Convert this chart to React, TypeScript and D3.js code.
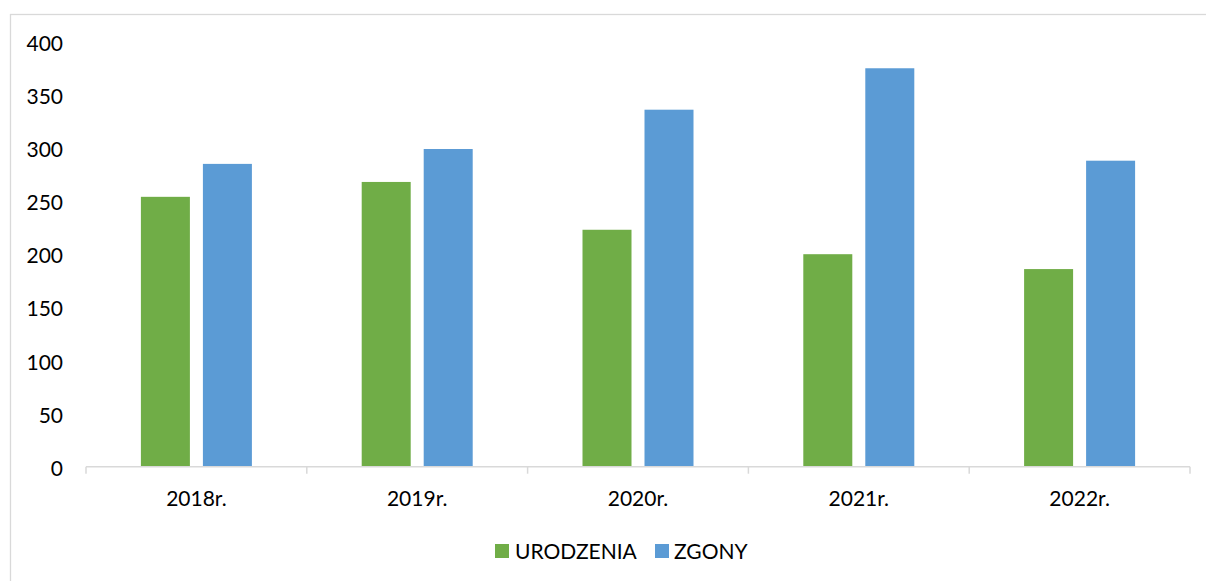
import React from "react";
import * as d3 from "d3";

const categories = ["2018r.", "2019r.", "2020r.", "2021r.", "2022r."];
const seriesNames = ["URODZENIA", "ZGONY"];
const urodzenia = [254, 268, 223, 200, 186];
const zgony = [285, 299, 336, 375, 288];
const yTicks = [0, 50, 100, 150, 200, 250, 300, 350, 400];
const colors = ["#70AD47", "#5B9BD5"];

const W = 1206;
const H = 581;
const FONT = "Lato, 'Open Sans', sans-serif";
const FS = 21;

export default function App() {
  const x0 = d3.scaleBand<string>().domain(categories).range([86, 1190]).paddingInner(0).paddingOuter(0);
  const y = d3.scaleLinear().domain([0, 400]).range([466.7, 41.7]);
  const values = [urodzenia, zgony];
  const tickXs = [...categories.map((c) => x0(c) as number), 1190];
  const baseY = y(0);

  return (
    <svg
      width={W}
      height={H}
      style={{ position: "absolute", left: 0, top: 0, background: "#fff" }}
      fontFamily={FONT}
    >
      <rect x={10.5} y={14.5} width={1300} height={700} fill="#fff" stroke="#D9D9D9" strokeWidth={1.3} />
      {categories.map((c) => {
        const center = (x0(c) as number) + x0.bandwidth() / 2;
        const x1 = d3
          .scaleBand<string>()
          .domain(seriesNames)
          .range([center - 55.5, center + 55.5])
          .paddingInner(0.2097)
          .paddingOuter(0);
        return (
          <g key={c}>
            {seriesNames.map((s, si) => {
              const v = values[si][categories.indexOf(c)];
              return (
                <rect
                  key={s}
                  x={x1(s)}
                  y={y(v)}
                  width={x1.bandwidth()}
                  height={baseY - y(v)}
                  fill={colors[si]}
                />
              );
            })}
          </g>
        );
      })}
      <line x1={86} x2={1190} y1={baseY} y2={baseY} stroke="#D9D9D9" strokeWidth={1.5} />
      {tickXs.map((tx, i) => (
        <line key={i} x1={tx} x2={tx} y1={baseY} y2={baseY + 7} stroke="#D9D9D9" strokeWidth={1.5} />
      ))}
      {yTicks.map((t) => (
        <text key={t} x={63} y={y(t) + 1.6} dy="0.36em" textAnchor="end" fontSize={FS} fill="#000">
          {t}
        </text>
      ))}
      {categories.map((c) => (
        <text
          key={c}
          x={(x0(c) as number) + x0.bandwidth() / 2}
          y={498}
          dy="0.36em"
          textAnchor="middle"
          fontSize={FS}
          fill="#000"
        >
          {c}
        </text>
      ))}
      <g>
        <rect x={495} y={544} width={14} height={14} fill={colors[0]} />
        <text x={515} y={551} dy="0.36em" fontSize={FS} fill="#000">
          {seriesNames[0]}
        </text>
        <rect x={655} y={544} width={14} height={14} fill={colors[1]} />
        <text x={674} y={551} dy="0.36em" fontSize={FS} fill="#000">
          {seriesNames[1]}
        </text>
      </g>
    </svg>
  );
}
